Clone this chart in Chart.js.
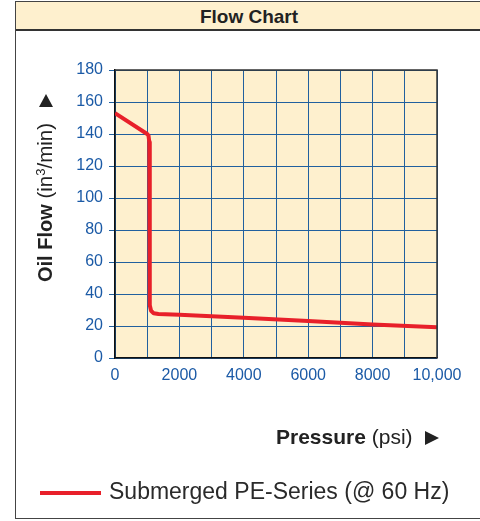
<!DOCTYPE html>
<html>
<head>
<meta charset="utf-8">
<script src="https://cdn.jsdelivr.net/npm/chart.js@4.4.1/dist/chart.umd.min.js"></script>
<style>
  html, body { margin: 0; padding: 0; background: #fff; }
  #wrap { position: relative; width: 480px; height: 521px; overflow: hidden; font-family: "Liberation Sans", Arial, sans-serif; }
  #frame { position: absolute; left: 15px; top: 1px; width: 490px; height: 518px; border: 1.5px solid #444; box-sizing: border-box; background: #fff; }
  #title { position: absolute; left: 16px; top: 2px; width: 466px; height: 27px; background: #FEF0CE; border-bottom: 2px solid #333; text-align: center; font-weight: bold; font-size: 19px; line-height: 29px; color: #222; }
  #cv { position: absolute; left: 0; top: 0; width: 480px; height: 521px; }
</style>
</head>
<body>
<div id="wrap">
  <div id="frame"></div>
  <div id="title">Flow Chart</div>
  <div id="cv"><canvas id="chart"></canvas></div>
</div>
<script>
// Data
const pressure = [0, 1000, 1040, 1065, 1075, 1085, 1120, 1200, 1350, 2000, 4000, 6000, 8000, 10000];
const oilFlow  = [153, 140, 139, 135, 60, 33, 29.5, 28, 27.5, 27, 25.2, 23.2, 21, 19.2];
const seriesLabel = 'Submerged PE-Series (@ 60 Hz)';
const xMin = 0, xMax = 10000, xStep = 1000;
const yMin = 0, yMax = 180, yStep = 20;

const tickBlue = '#1b5aa6';
const gridBlue = '#21609e';
const lineRed = '#e8202a';
const FONT = '"Liberation Sans", Arial, sans-serif';

const plotDecor = {
  id: 'plotDecor',
  beforeDraw(chart) {
    const {ctx, chartArea: a} = chart;
    ctx.save();
    ctx.fillStyle = '#FEF0CE';
    ctx.fillRect(a.left, a.top, a.right - a.left, a.bottom - a.top);
    ctx.restore();
  },
  afterDatasetsDraw(chart) {
    const {ctx, chartArea: a} = chart;
    ctx.save();
    ctx.strokeStyle = '#333';
    ctx.lineWidth = 1.5;
    ctx.beginPath();
    ctx.moveTo(a.left, a.top);
    ctx.lineTo(a.right, a.top);
    ctx.lineTo(a.right, a.bottom);
    ctx.stroke();
    ctx.restore();
  },
  afterDraw(chart) {
    const {ctx} = chart;
    ctx.save();
    ctx.fillStyle = '#222';
    // Y axis title (rotated)
    ctx.translate(46, 282);
    ctx.rotate(-Math.PI / 2);
    ctx.textBaseline = 'middle';
    ctx.textAlign = 'left';
    let x = 0;
    ctx.font = 'bold 20px ' + FONT;
    ctx.fillText('Oil Flow', x, 0); x += ctx.measureText('Oil Flow').width;
    ctx.font = '20.5px ' + FONT;
    x += ctx.measureText(' ').width;
    ctx.fillText('(in', x, 0); x += ctx.measureText('(in').width;
    ctx.font = '13px ' + FONT;
    ctx.fillText('3', x, -5); x += ctx.measureText('3').width;
    ctx.font = '20.5px ' + FONT;
    ctx.fillText('/min)', x, 0);
    const tx = 282 - 101;
    ctx.beginPath();
    ctx.moveTo(tx + 7, 0);
    ctx.lineTo(tx - 6, -7);
    ctx.lineTo(tx - 6, 7);
    ctx.closePath();
    ctx.fill();
    ctx.restore();

    // X axis title
    ctx.save();
    ctx.fillStyle = '#222';
    ctx.textBaseline = 'middle';
    ctx.textAlign = 'left';
    let px = 276;
    const py = 438;
    ctx.font = 'bold 21px ' + FONT;
    ctx.fillText('Pressure', px, py); px += ctx.measureText('Pressure').width;
    ctx.font = '21px ' + FONT;
    px += ctx.measureText(' ').width;
    ctx.fillText('(psi)', px, py);
    ctx.beginPath();
    ctx.moveTo(425, py - 7);
    ctx.lineTo(439, py);
    ctx.lineTo(425, py + 7);
    ctx.closePath();
    ctx.fill();

    // Legend
    ctx.strokeStyle = lineRed;
    ctx.lineWidth = 4;
    ctx.beginPath();
    ctx.moveTo(40, 493);
    ctx.lineTo(101, 493);
    ctx.stroke();
    ctx.font = '23px ' + FONT;
    ctx.fillStyle = '#2a2a2a';
    ctx.textBaseline = 'alphabetic';
    ctx.fillText(seriesLabel, 109, 499);
    ctx.restore();
  }
};

new Chart(document.getElementById('chart'), {
  type: 'line',
  data: {
    datasets: [{
      label: seriesLabel,
      data: pressure.map((p, i) => ({x: p, y: oilFlow[i]})),
      borderColor: lineRed,
      borderWidth: 4,
      pointRadius: 0,
      tension: 0,
      borderJoinStyle: 'round',
      borderCapStyle: 'butt'
    }]
  },
  options: {
    responsive: true,
    maintainAspectRatio: false,
    animation: false,
    devicePixelRatio: 1,
    layout: { padding: { left: 60, top: 70, right: 43, bottom: 133 } },
    plugins: { legend: { display: false }, tooltip: { enabled: false }, title: { display: false } },
    scales: {
      x: {
        type: 'linear',
        min: xMin, max: xMax,
        afterFit(s) { s.height = 30; },
        ticks: {
          stepSize: xStep,
          autoSkip: false,
          maxRotation: 0,
          padding: 8,
          color: tickBlue,
          font: { family: FONT, size: 16 },
          callback: v => (v % 2000 === 0) ? (v >= 10000 ? '10,000' : String(v)) : ''
        },
        grid: { color: gridBlue, lineWidth: 1, drawTicks: false, tickLength: 0 },
        border: { display: true, color: '#111', width: 1.5 }
      },
      y: {
        min: yMin, max: yMax,
        afterFit(s) { s.width = 55; },
        ticks: {
          stepSize: yStep,
          padding: 6,
          color: tickBlue,
          font: { family: FONT, size: 16 }
        },
        grid: { color: gridBlue, lineWidth: 1, drawTicks: true, tickLength: 6 },
        border: { display: true, color: '#111', width: 1.5 }
      }
    }
  },
  plugins: [plotDecor]
});
</script>
</body>
</html>
